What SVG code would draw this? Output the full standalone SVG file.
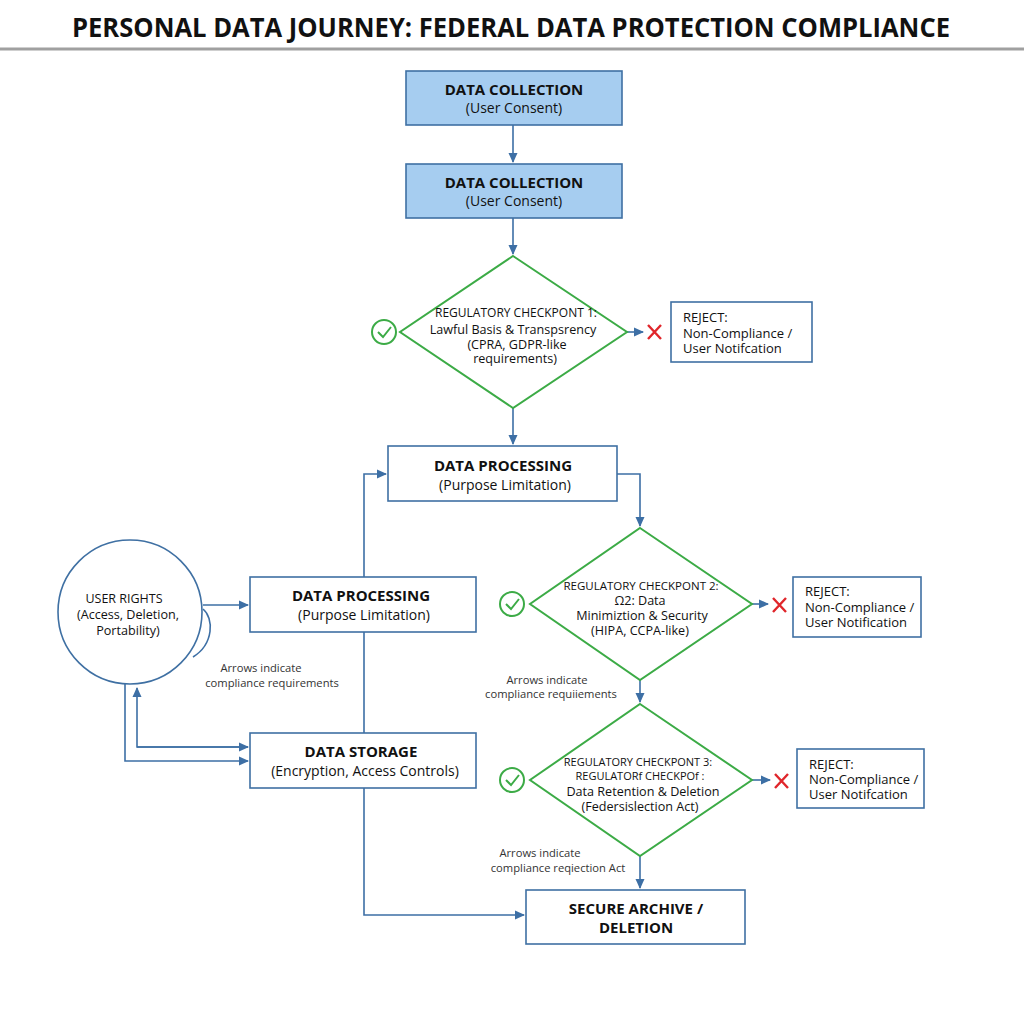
<svg xmlns="http://www.w3.org/2000/svg" width="1024" height="1024" viewBox="0 0 1024 1024">
<defs>
<marker id="ah" markerWidth="10" markerHeight="10" refX="9" refY="5" orient="auto" markerUnits="userSpaceOnUse">
<path d="M0,0.5 L10,5 L0,9.5 Z" fill="#3d6fa5"/>
</marker>
<style>
.bg{fill:#ffffff}
.title{font-family:"Open Sans","Liberation Sans",sans-serif;font-weight:700;font-size:26px;fill:#111}
.box{fill:#ffffff;stroke:#3f70a3;stroke-width:1.6}
.boxb{fill:#a6cdf0;stroke:#3f70a3;stroke-width:1.6}
.dia{fill:#ffffff;stroke:#3cab46;stroke-width:2}
.h{font-family:"Open Sans","Liberation Sans",sans-serif;font-weight:700;font-size:15px;fill:#111;text-anchor:middle}
.s{font-family:"Open Sans","Liberation Sans",sans-serif;font-size:14px;fill:#111;text-anchor:middle}
.d{font-family:"Open Sans","Liberation Sans",sans-serif;font-size:12.6px;fill:#111;text-anchor:middle}
.du{font-family:"Open Sans","Liberation Sans",sans-serif;font-size:11.5px;fill:#111;text-anchor:middle}
.r{font-family:"Open Sans","Liberation Sans",sans-serif;font-size:13px;fill:#111}
.n{font-family:"Open Sans","Liberation Sans",sans-serif;font-size:11.2px;fill:#333;text-anchor:middle}
.c{fill:none;stroke:#3d6fa5;stroke-width:1.6}
.ok{fill:none;stroke:#3cab46;stroke-width:2}
.x{stroke:#e0262b;stroke-width:2.4;fill:none}
</style>
</defs>
<rect class="bg" x="0" y="0" width="1024" height="1024"/>
<text class="title" x="511" y="37" text-anchor="middle" textLength="878" lengthAdjust="spacingAndGlyphs">PERSONAL DATA JOURNEY: FEDERAL DATA PROTECTION COMPLIANCE</text>
<line x1="0" y1="49" x2="1024" y2="49" stroke="#a0a0a0" stroke-width="3"/>

<g id="connectors">
<line class="c" x1="513" y1="125" x2="513" y2="162" marker-end="url(#ah)"/>
<line class="c" x1="513" y1="218" x2="513" y2="254" marker-end="url(#ah)"/>
<line class="c" x1="627" y1="332" x2="643" y2="332" marker-end="url(#ah)"/>
<line class="c" x1="513" y1="408" x2="513" y2="444" marker-end="url(#ah)"/>
<polyline class="c" points="617,474 640,474 640,526" marker-end="url(#ah)"/>
<polyline class="c" points="364,700 364,474 386,474" marker-end="url(#ah)"/>
<polyline class="c" points="364,700 364,915 524,915" marker-end="url(#ah)"/>
<line class="c" x1="752" y1="604" x2="768" y2="604" marker-end="url(#ah)"/>
<line class="c" x1="640" y1="680" x2="640" y2="702" marker-end="url(#ah)"/>
<line class="c" x1="752" y1="780" x2="770" y2="780" marker-end="url(#ah)"/>
<line class="c" x1="640" y1="856" x2="640" y2="888" marker-end="url(#ah)"/>
<line class="c" x1="203" y1="605" x2="248" y2="605" marker-end="url(#ah)"/>
<path class="c" d="M203,609 C214,618 214,644 193,657"/>
<polyline class="c" points="125,684 125,761 248,761" marker-end="url(#ah)"/>
<polyline class="c" points="248,747 137,747 137,688" marker-end="url(#ah)"/>
<line class="c" x1="137" y1="747" x2="248" y2="747" marker-end="url(#ah)"/>
</g>

<g id="collection1">
<rect class="boxb" x="406" y="71" width="216" height="54"/>
<text class="h" x="514" y="95">DATA COLLECTION</text>
<text class="s" x="514" y="113">(User Consent)</text>
</g>
<g id="collection2">
<rect class="boxb" x="406" y="164" width="216" height="54"/>
<text class="h" x="514" y="188">DATA COLLECTION</text>
<text class="s" x="514" y="206">(User Consent)</text>
</g>

<g id="checkpoint1">
<polygon class="dia" points="513,256 627,332 513,408 400,332"/>
<text class="du" x="516" y="317" style="font-size:12px">REGULATORY CHECKPONT 1:</text>
<text class="d" x="513" y="334">Lawful Basis &amp; Transpsrency</text>
<text class="d" x="517" y="349">(CPRA, GDPR-like</text>
<text class="d" x="515" y="363">requirements)</text>
</g>
<g id="ok1"><circle class="ok" cx="384" cy="332" r="12"/><polyline class="ok" points="378,332 383,337 391,327"/></g>
<g id="x1"><path class="x" d="M648,325 L661,339 M661,325 L648,339"/></g>
<g id="reject1">
<rect class="box" x="671" y="302" width="141" height="60"/>
<text class="r" x="683" y="322">REJECT:</text>
<text class="r" x="683" y="338">Non-Compliance /</text>
<text class="r" x="683" y="353">User Notifcation</text>
</g>

<g id="processing1">
<rect class="box" x="388" y="446" width="229" height="55"/>
<text class="h" x="503" y="471">DATA PROCESSING</text>
<text class="s" x="505" y="490">(Purpose Limitation)</text>
</g>

<g id="checkpoint2">
<polygon class="dia" points="640,528 752,604 640,680 530,604"/>
<text class="du" x="641" y="590">REGULATORY CHECKPONT 2:</text>
<text class="d" x="640" y="605">Ω2: Data</text>
<text class="d" x="642" y="620">Minimiztion &amp; Security</text>
<text class="d" x="640" y="635">(HIPA, CCPA-like)</text>
</g>
<g id="ok2"><circle class="ok" cx="512" cy="604" r="12"/><polyline class="ok" points="506,604 511,609 519,599"/></g>
<g id="x2"><path class="x" d="M773,598 L786,612 M786,598 L773,612"/></g>
<g id="reject2">
<rect class="box" x="793" y="577" width="128" height="60"/>
<text class="r" x="805" y="596">REJECT:</text>
<text class="r" x="805" y="612">Non-Compliance /</text>
<text class="r" x="805" y="627">User Notification</text>
</g>
<text class="n" x="547" y="684">Arrows indicate</text>
<text class="n" x="551" y="698">compliance requiiements</text>

<g id="checkpoint3">
<polygon class="dia" points="640,704 752,780 640,856 530,780"/>
<text class="du" x="638" y="766" style="font-size:11px">REGULATORY CHECKPONT 3:</text>
<text class="du" x="640" y="780" style="font-size:11px">REGULATORf CHECKPOf :</text>
<text class="d" x="643" y="796">Data Retention &amp; Deletion</text>
<text class="d" x="640" y="811">(Federsislection Act)</text>
</g>
<g id="ok3"><circle class="ok" cx="512" cy="780" r="12"/><polyline class="ok" points="506,780 511,785 519,775"/></g>
<g id="x3"><path class="x" d="M775,774 L788,788 M788,774 L775,788"/></g>
<g id="reject3">
<rect class="box" x="797" y="749" width="127" height="59"/>
<text class="r" x="809" y="769">REJECT:</text>
<text class="r" x="809" y="784">Non-Compliance /</text>
<text class="r" x="809" y="799">User Notifcation</text>
</g>
<text class="n" x="540" y="857">Arrows indicate</text>
<text class="n" x="558" y="872">compliance reqiection Act</text>

<g id="archive">
<rect class="box" x="526" y="890" width="219" height="54"/>
<text class="h" x="636" y="914">SECURE ARCHIVE /</text>
<text class="h" x="636" y="933">DELETION</text>
</g>

<g id="userrights">
<circle class="box" cx="130" cy="612" r="72"/>
<text class="du" x="124" y="603" style="font-size:12.5px">USER RIGHTS</text>
<text class="d" x="128" y="619">(Access, Deletion,</text>
<text class="d" x="128" y="635">Portability)</text>
</g>

<g id="processing2">
<rect class="box" x="250" y="577" width="226" height="55"/>
<text class="h" x="361" y="601">DATA PROCESSING</text>
<text class="s" x="364" y="620">(Purpose Limitation)</text>
</g>
<text class="n" x="261" y="672">Arrows indicate</text>
<text class="n" x="272" y="687">compliance requirements</text>

<g id="storage">
<rect class="box" x="250" y="733" width="226" height="55"/>
<text class="h" x="361" y="757">DATA STORAGE</text>
<text class="s" x="365" y="776">(Encryption, Access Controls)</text>
</g>
</svg>
